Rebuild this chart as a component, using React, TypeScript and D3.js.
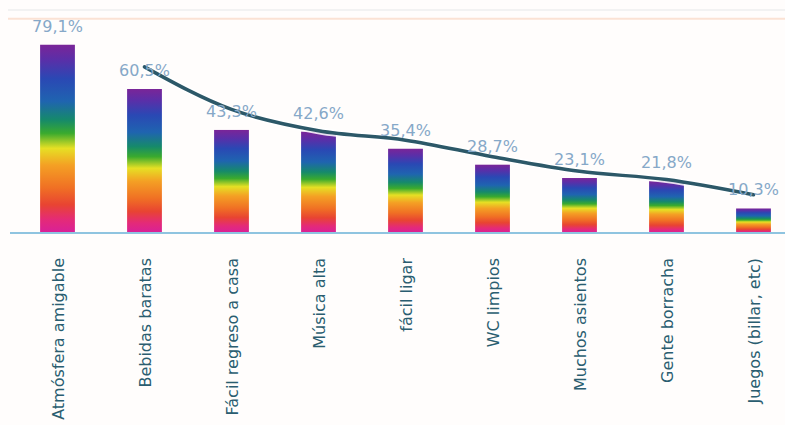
import React from "react";
import * as d3 from "d3";

const categories = [
  "Atmósfera amigable",
  "Bebidas baratas",
  "Fácil regreso a casa",
  "Música alta",
  "fácil ligar",
  "WC limpios",
  "Muchos asientos",
  "Gente borracha",
  "Juegos (billar, etc)",
];
const values = [79.1, 60.5, 43.3, 42.6, 35.4, 28.7, 23.1, 21.8, 10.3];
const valueLabels = ["79,1%", "60,5%", "43,3%", "42,6%", "35,4%", "28,7%", "23,1%", "21,8%", "10,3%"];

const W = 785;
const H = 425;

export default function App() {
  const x = d3
    .scaleBand<string>()
    .domain(categories)
    .range([14, 797])
    .paddingInner(0.6)
    .paddingOuter(0.3);
  const y = d3.scaleLinear().domain([0, 90]).range([233, 18.8]);

  // 2-period moving average trendline
  const ma: [number, number][] = [];
  for (let i = 1; i < values.length; i++) {
    const avg = (values[i] + values[i - 1]) / 2;
    ma.push([x(categories[i])! + x.bandwidth() / 2, y(avg)]);
  }
  const line = d3
    .line<[number, number]>()
    .x((d) => d[0])
    .y((d) => d[1])
    .curve(d3.curveMonotoneX);
  const path = line(ma) || "";

  const font = "'DejaVu Sans', Verdana, sans-serif";

  return (
    <svg
      width={W}
      height={H}
      style={{ position: "absolute", left: 0, top: 0, background: "#fffdfc" }}
    >
      <defs>
        <linearGradient id="rainbow" x1="0" y1="0" x2="0" y2="1">
          <stop offset="0%" stopColor="#7a2598" />
          <stop offset="8%" stopColor="#5a2fa8" />
          <stop offset="18%" stopColor="#2a48b4" />
          <stop offset="30%" stopColor="#1f64b0" />
          <stop offset="40%" stopColor="#168a6a" />
          <stop offset="47%" stopColor="#3aaa2e" />
          <stop offset="55%" stopColor="#e6e024" />
          <stop offset="64%" stopColor="#f4a024" />
          <stop offset="76%" stopColor="#f07024" />
          <stop offset="85%" stopColor="#e84432" />
          <stop offset="93%" stopColor="#e42a78" />
          <stop offset="100%" stopColor="#d8209a" />
        </linearGradient>
      </defs>

      {/* faint top lines */}
      <line x1={8} x2={W} y1={10} y2={10} stroke="#f2f2f2" strokeWidth={2} />
      <line x1={8} x2={W} y1={y(90)} y2={y(90)} stroke="#fbe2d4" strokeWidth={2} />

      {/* bars */}
      {categories.map((c, i) => (
        <rect
          key={c}
          x={x(c)}
          y={y(values[i])}
          width={x.bandwidth()}
          height={y(0) - y(values[i])}
          fill="url(#rainbow)"
        />
      ))}

      {/* baseline */}
      <line x1={10} x2={W} y1={y(0)} y2={y(0)} stroke="#8fc4e0" strokeWidth={2} />

      {/* trendline */}
      <path d={path} fill="none" stroke="#ffffff" strokeOpacity={0.85} strokeWidth={7} strokeLinecap="round" />
      <path d={path} fill="none" stroke="#2c5868" strokeWidth={3.5} strokeLinecap="round" />

      {/* value labels */}
      {categories.map((c, i) => (
        <text
          key={"v" + c}
          x={x(c)! + x.bandwidth() / 2}
          y={y(values[i]) - 13}
          textAnchor="middle"
          fontFamily={font}
          fontSize={16}
          fill="#86a8c8"
        >
          {valueLabels[i]}
        </text>
      ))}

      {/* category labels */}
      {categories.map((c) => {
        const cx = x(c)! + x.bandwidth() / 2;
        const ty = 258;
        return (
          <text
            key={"c" + c}
            transform={`translate(${cx + 6},${ty}) rotate(-90)`}
            textAnchor="end"
            fontFamily={font}
            fontSize={16}
            fill="#2a5d70"
          >
            {c}
          </text>
        );
      })}
    </svg>
  );
}
